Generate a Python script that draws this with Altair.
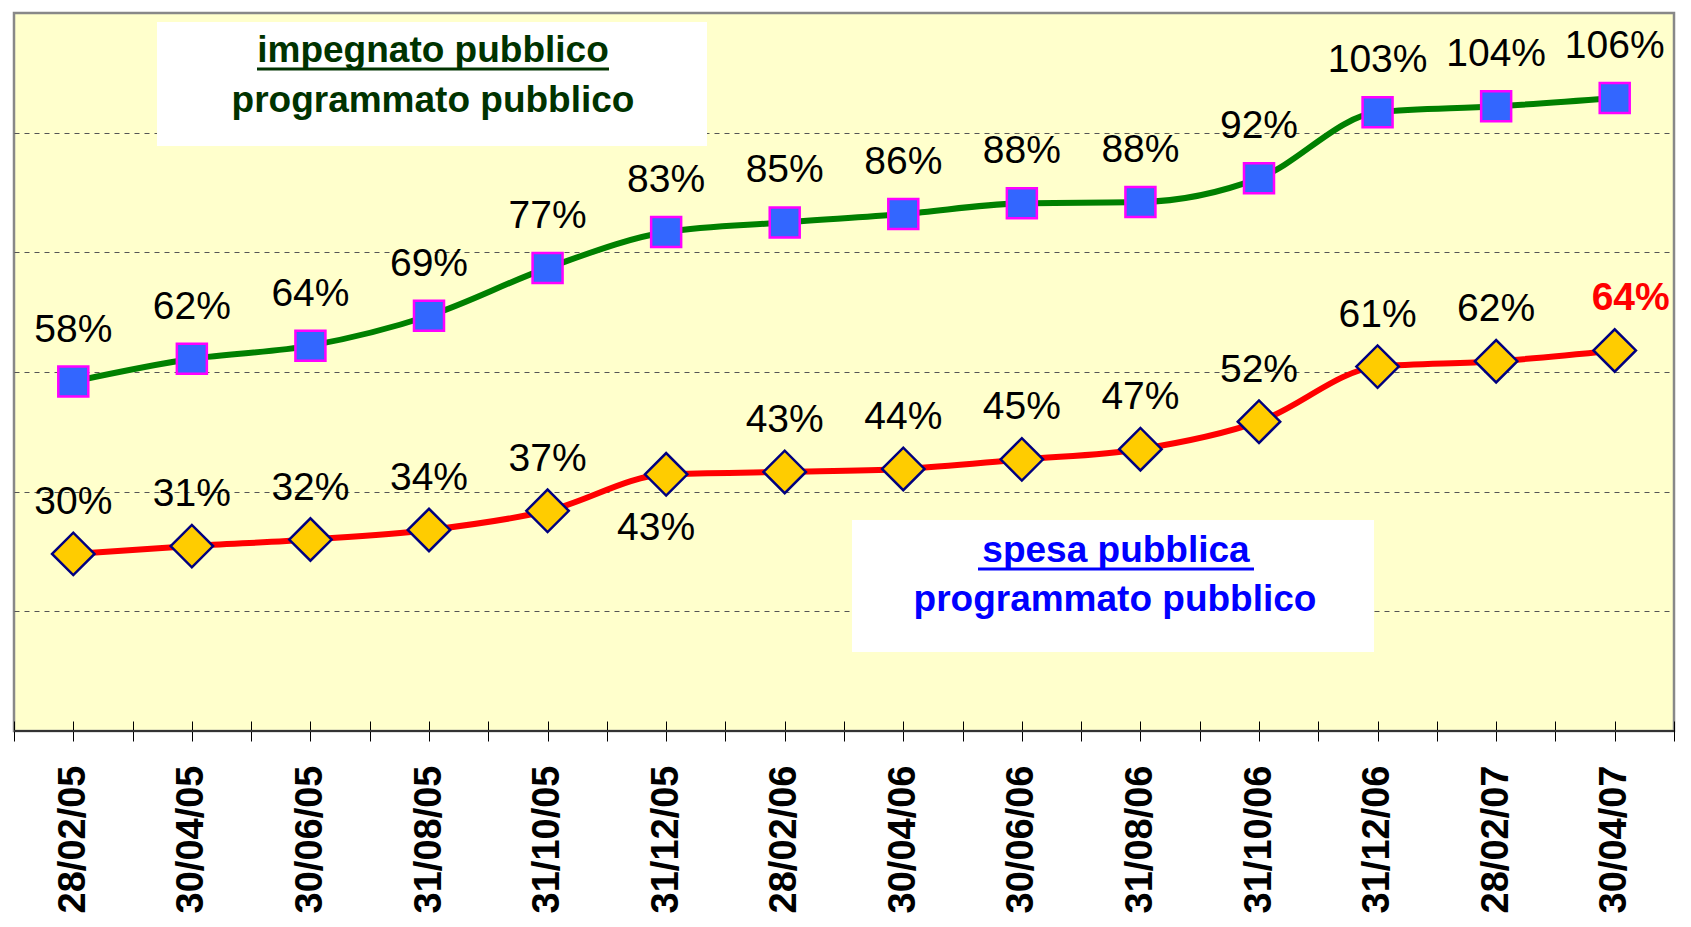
import json
import altair as alt
import pandas as pd

# ---- data ----
dates = ["28/02/05", "30/04/05", "30/06/05", "31/08/05", "31/10/05", "31/12/05", "28/02/06",
         "30/04/06", "30/06/06", "31/08/06", "31/10/06", "31/12/06", "28/02/07", "30/04/07"]
impegnato = [58.4, 62.2, 64.4, 69.4, 77.4, 83.4, 85.0, 86.4, 88.2, 88.4, 92.4, 103.4, 104.4, 105.8]
impegnato_labels = ["58%", "62%", "64%", "69%", "77%", "83%", "85%", "86%", "88%", "88%", "92%",
                    "103%", "104%", "106%"]
spesa = [29.6, 30.9, 32.0, 33.6, 36.8, 42.9, 43.3, 43.8, 45.4, 47.1, 51.7, 60.9, 61.8, 63.6]
spesa_labels = ["30%", "31%", "32%", "34%", "37%", "43%", "43%", "44%", "45%", "47%", "52%",
                "61%", "62%", "64%"]
spesa_label_side = ["above", "above", "above", "above", "above", "below", "above",
                    "above", "above", "above", "above", "above", "above", "highlight"]

df = pd.DataFrame({
    "idx": list(range(len(dates))),
    "date": dates,
    "impegnato": impegnato,
    "imp_label": impegnato_labels,
    "spesa": spesa,
    "spe_label": spesa_labels,
    "side": spesa_label_side,
})
one = pd.DataFrame({"k": [0]})

FONT = "Liberation Sans"

tick_values = [i * 0.5 - 0.5 for i in range(2 * len(dates) + 1)]
label_expr = f"datum.value % 1 == 0 ? {json.dumps(dates)}[datum.value] : ''"

xscale = alt.Scale(domain=[-0.5, len(dates) - 0.5], nice=False, zero=False)
xaxis = alt.Axis(values=tick_values, labelExpr=label_expr, title=None, grid=False,
                 domain=False, ticks=True, tickSize=20, tickColor="black", tickWidth=1,
                 offset=-10, labelAngle=-90, labelFont=FONT,
                 labelFontSize={"condition": {"test": "datum.value % 1 != 0", "value": 0},
                                "value": 38},
                 labelFontWeight="bold", labelColor="black", labelPadding=24,
                 labelOverlap=False, labelBound=False)
yscale = alt.Scale(domain=[0, 120], nice=False, zero=True)
yaxis = alt.Axis(values=[20, 40, 60, 80, 100], labels=False, ticks=False, domain=False,
                 grid=True, gridDash=[5, 5], gridColor="#555555", gridWidth=1, title=None,
                 minExtent=0)

X = alt.X("idx:Q", scale=xscale, axis=xaxis)
Yi = alt.Y("impegnato:Q", scale=yscale, axis=yaxis)
Ys = alt.Y("spesa:Q", scale=yscale, axis=yaxis)

base = alt.Chart(df)

# legend-like annotation boxes (plot-area pixel positions)
box1 = alt.Chart(one).mark_rect(fill="white").encode(
    x=alt.value(143), x2=alt.value(693), y=alt.value(9), y2=alt.value(133))
box1_t1 = alt.Chart(one).mark_text(text="impegnato pubblico", font=FONT, fontSize=37,
                                   fontWeight="bold", color="#003300", align="center",
                                   baseline="alphabetic").encode(x=alt.value(419), y=alt.value(49))
box1_u = alt.Chart(one).mark_rule(color="#003300", strokeWidth=3).encode(
    x=alt.value(243), x2=alt.value(595), y=alt.value(56))
box1_t2 = alt.Chart(one).mark_text(text="programmato pubblico", font=FONT, fontSize=37,
                                   fontWeight="bold", color="#003300", align="center",
                                   baseline="alphabetic").encode(x=alt.value(419), y=alt.value(99))

box2 = alt.Chart(one).mark_rect(fill="white").encode(
    x=alt.value(838), x2=alt.value(1360), y=alt.value(507), y2=alt.value(639))
box2_t1 = alt.Chart(one).mark_text(text="spesa pubblica", font=FONT, fontSize=37,
                                   fontWeight="bold", color="#0000FF", align="center",
                                   baseline="alphabetic").encode(x=alt.value(1102), y=alt.value(549))
box2_u = alt.Chart(one).mark_rule(color="#0000FF", strokeWidth=3).encode(
    x=alt.value(964), x2=alt.value(1240), y=alt.value(556))
box2_t2 = alt.Chart(one).mark_text(text="programmato pubblico", font=FONT, fontSize=37,
                                   fontWeight="bold", color="#0000FF", align="center",
                                   baseline="alphabetic").encode(x=alt.value(1101), y=alt.value(598))

bottom_line = alt.Chart(one).mark_rule(color="#333333", strokeWidth=2).encode(
    x=alt.value(0), x2=alt.value({"expr": "width"}), y=alt.value({"expr": "height"}))

green_line = base.mark_line(color="#008000", strokeWidth=6, interpolate="monotone").encode(x=X, y=Yi)
red_line = base.mark_line(color="#FF0000", strokeWidth=6, interpolate="monotone").encode(x=X, y=Ys)

green_pts = base.mark_point(shape="square", size=900, fill="#3366FF", fillOpacity=1,
                            stroke="#FF00FF", strokeWidth=2.5, opacity=1).encode(x=X, y=Yi)
red_pts = base.mark_point(shape="diamond", size=1800, fill="#FFCC00", fillOpacity=1,
                          stroke="#000080", strokeWidth=2.5, opacity=1).encode(x=X, y=Ys)

green_lbl = base.mark_text(font=FONT, fontSize=39, color="black", baseline="alphabetic",
                           dy=-40).encode(x=X, y=Yi, text="imp_label:N")
red_lbl_above = base.transform_filter(alt.datum.side == "above").mark_text(
    font=FONT, fontSize=39, color="black", baseline="alphabetic", dy=-40).encode(
    x=X, y=Ys, text="spe_label:N")
red_lbl_below = base.transform_filter(alt.datum.side == "below").mark_text(
    font=FONT, fontSize=39, color="black", baseline="alphabetic", dy=66, dx=-10).encode(
    x=X, y=Ys, text="spe_label:N")
red_lbl_hi = base.transform_filter(alt.datum.side == "highlight").mark_text(
    font=FONT, fontSize=39, fontWeight="bold", color="#FF0000", baseline="alphabetic",
    dy=-40, dx=16).encode(x=X, y=Ys, text="spe_label:N")

chart = alt.layer(
    green_line, red_line,
    box1, box2, box1_t1, box1_u, box1_t2, box2_t1, box2_u, box2_t2,
    bottom_line,
    green_pts, red_pts,
    green_lbl, red_lbl_above, red_lbl_below, red_lbl_hi,
).properties(
    width=1675, height=905,
    autosize=alt.AutoSizeParams(type="fit", contains="padding"),
    padding={"left": 5, "top": 5, "right": 8, "bottom": 0},
    background="white",
).configure_view(fill="#FFFFCC", stroke="#888888", strokeWidth=2.5)

chart.save("out.html", embed_options={"renderer": "svg", "actions": False})
